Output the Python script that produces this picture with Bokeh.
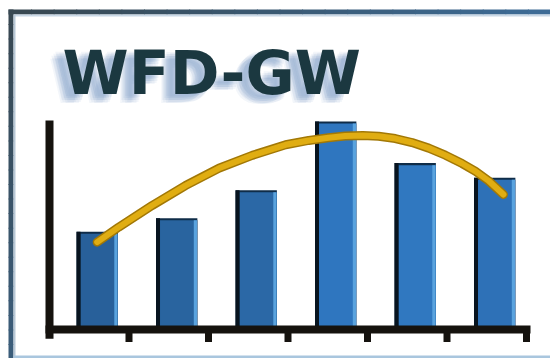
from bokeh.plotting import figure
from bokeh.models import Range1d
from bokeh.core.properties import value
from bokeh.embed import file_html
from bokeh.resources import INLINE

# ---- data ----
title_text = "WFD-GW"
categories = [1, 2, 3, 4, 5, 6]
bar_values = [4.7, 5.35, 6.7, 10.0, 8.0, 7.3]
x_ticks = [0, 1, 2, 3, 4, 5, 6]
y_axis_top = 10.05
curve_x = [0.60, 0.87, 1.29, 1.71, 2.13, 2.55, 2.97, 3.26, 3.51, 3.72, 3.94, 4.14, 4.35, 4.56, 4.77, 4.98, 5.19, 5.36, 5.52, 5.71]
curve_y = [4.20, 4.92, 5.96, 6.92, 7.75, 8.37, 8.88, 9.09, 9.22, 9.30, 9.33, 9.29, 9.18, 8.99, 8.72, 8.38, 7.98, 7.60, 7.16, 6.49]

# ---- styles ----
bar_fills = ["#28609a", "#29649f", "#2b68a6", "#2f76bf", "#3078c0", "#2e71b7"]
axis_color = "#15120e"

p = figure(width=550, height=358,
           x_range=Range1d(-49 / 79.5, 501 / 79.5),
           y_range=Range1d(-29 / 20.8, 329 / 20.8),
           output_backend="svg", toolbar_location=None,
           x_axis_location=None, y_axis_location=None,
           min_border=0)
p.grid.visible = False
p.outline_line_color = None
p.background_fill_color = "white"
p.border_fill_color = "white"
p.extra_x_ranges = {"px": Range1d(0, 550)}
p.extra_y_ranges = {"px": Range1d(358, 0)}
PX = dict(x_range_name="px", y_range_name="px")

# ---- picture frame ----
n = 24
c0 = (0x38, 0x48, 0x52)
c1 = (0x3e, 0x6c, 0x96)
for i in range(n):
    t = i / (n - 1)
    col = "#%02x%02x%02x" % tuple(int(a + (b - a) * t) for a, b in zip(c0, c1))
    x0 = 8 + (550 - 8) * i / n
    x1 = 8 + (550 - 8) * (i + 1) / n + 1
    p.quad(left=[x0], right=[x1], top=[9], bottom=[14], fill_color=col, line_color=None, **PX)
p.quad(left=[13], right=[550], top=[14], bottom=[16], fill_color="#c9d8e6", line_color=None, **PX)
for i in range(n):
    t = i / (n - 1)
    col = "#%02x%02x%02x" % tuple(int(a + (b - a) * t * 0.6) for a, b in zip(c0, c1))
    y0 = 9 + (358 - 9) * i / n
    y1 = 9 + (358 - 9) * (i + 1) / n + 1
    p.quad(left=[8], right=[13], top=[y0], bottom=[y1], fill_color=col, line_color=None, **PX)
p.quad(left=[13], right=[15], top=[14], bottom=[358], fill_color="#b8c8d6", line_color=None, **PX)
p.quad(left=[13], right=[550], top=[355], bottom=[358], fill_color="#a9c6de", line_color=None, **PX)

# ---- title with soft shadow ----
shadow_offsets = [(-10, 6), (-8, 4), (-12, 8), (-6, 6), (-9, 9), (-11, 4), (-7, 8), (-13, 6), (-9, 2), (-14, 9), (-5, 3)]
for dx, dy in shadow_offsets:
    p.text(x=[62 + dx], y=[72 + dy], text=[title_text], text_font=value("DejaVu Sans"),
           text_font_style="bold", text_font_size="60px", text_color="#7a9aca",
           text_alpha=0.09, text_baseline="alphabetic", **PX)
p.text(x=[62], y=[72], text=[title_text], text_font=value("DejaVu Sans"),
       text_font_style="bold", text_font_size="60px", text_color="#1b3840",
       text_baseline="alphabetic", **PX)

# ---- bars ----
bx = [c - 0.4 for c in categories]
p.vbar(x=bx, width=0.52, top=bar_values, bottom=0, fill_color="#0f2c48", line_color=None)
p.vbar(x=[x + 0.025 for x in bx], width=0.47, top=[v - 0.1 for v in bar_values], bottom=0,
       fill_color=bar_fills, line_color=None)
p.vbar(x=[x + 0.235 for x in bx], width=0.04, top=[v - 0.1 for v in bar_values], bottom=0,
       fill_color="#5aa3de", line_color=None)
p.vbar(x=[x - 0.235 for x in bx], width=0.05, top=bar_values, bottom=0,
       fill_color="#08141f", line_color=None)

# ---- curve ----
p.line(curve_x, curve_y, line_width=9, line_color="#a27806", line_cap="round", line_join="round")
p.line(curve_x, curve_y, line_width=6, line_color="#e0ad12", line_cap="round", line_join="round")

# ---- axes ----
p.line([x_ticks[0], x_ticks[-1]], [0, 0], line_width=8, line_color=axis_color, line_cap="square")
p.line([0, 0], [-0.45, y_axis_top], line_width=8, line_color=axis_color, line_cap="butt")
p.segment(x0=x_ticks[1:], y0=[0] * 6, x1=x_ticks[1:], y1=[-0.6] * 6,
          line_width=7, line_color=axis_color)

open("out.html", "w").write(file_html(p, INLINE))
